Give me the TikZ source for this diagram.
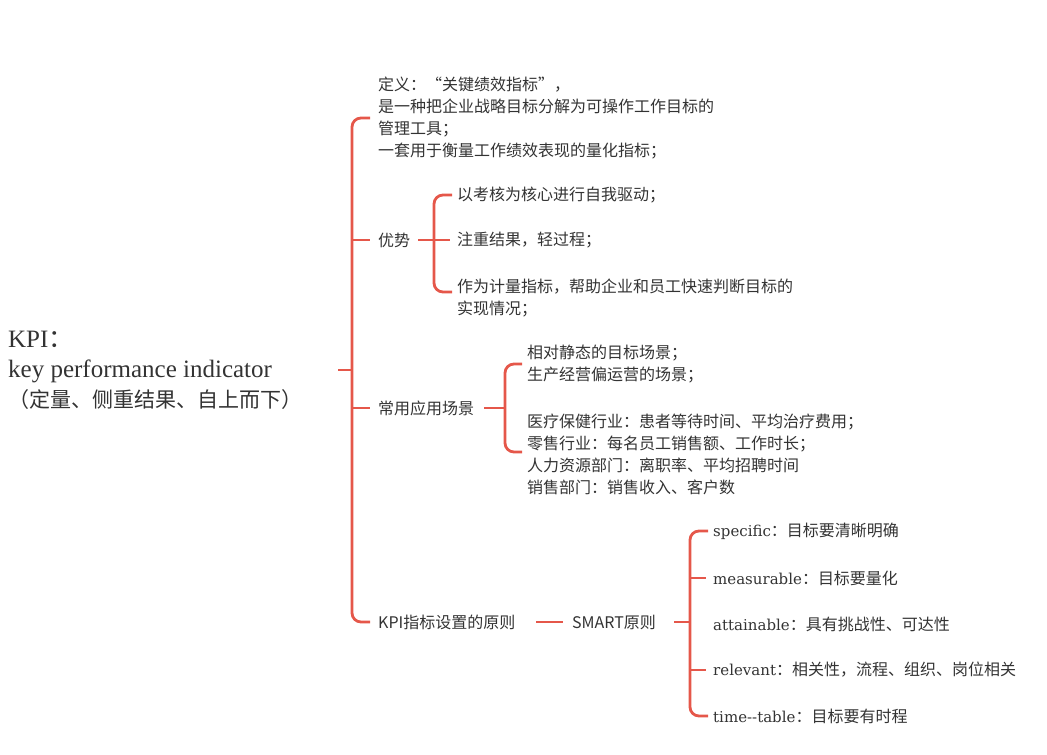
\documentclass[tikz,border=0pt]{standalone}
\usepackage{fontspec}
\setmainfont{Liberation Serif}
\newfontfamily\cjk{Noto Sans CJK SC}
\newfontfamily\lat{DejaVu Serif}
\definecolor{br}{HTML}{E5574A}
\definecolor{tx}{HTML}{333333}
\begin{document}
\begin{tikzpicture}[x=1pt,y=-1pt,
  lbl/.style={anchor=west,inner sep=0pt,text=tx,font=\fontsize{16}{22}\selectfont,align=left},
  conn/.style={draw=br,line width=2.8pt,rounded corners=9pt}]
\useasboundingbox (0,0) rectangle (1047,755);
\node[lbl,font=\fontsize{25}{30}\selectfont] (root) at (8,370) {KPI{\cjk：}\\key performance indicator\\{\cjk\fontsize{21}{30}\selectfont （定量、侧重结果、自上而下）}};
\coordinate (rc) at (352,370);
\draw[conn] (338,370) -- (rc);
\draw[conn] (370,118) -- (352,118) -- (352,622) -- (370,622);
\node[lbl] (def) at (378,118) {\cjk 定义：“关键绩效指标”，\\\cjk 是一种把企业战略目标分解为可操作工作目标的\\\cjk 管理工具；\\\cjk 一套用于衡量工作绩效表现的量化指标；};
\node[lbl] (yous) at (378,240) {\cjk 优势};
\node[lbl] (chang) at (378,408) {\cjk 常用应用场景};
\node[lbl] (kpi) at (378,622) {\cjk KPI指标设置的原则};
\draw[conn] (352,240) -- (370,240);
\draw[conn] (352,408) -- (370,408);
% youshi
\draw[conn] (418,240) -- (434,240);
\draw[conn] (452,195) -- (434,195) -- (434,292) -- (452,292);
\node[lbl] (y1) at (457,195) {\cjk 以考核为核心进行自我驱动；};
\node[lbl] (y2) at (457,240) {\cjk 注重结果，轻过程；};
\node[lbl] (y3) at (457,298) {\cjk 作为计量指标，帮助企业和员工快速判断目标的\\\cjk 实现情况；};
\draw[conn] (434,240) -- (450,240);
% changjing
\draw[conn] (484,408) -- (505,408);
\draw[conn] (522,364) -- (505,364) -- (505,452) -- (522,452);
\node[lbl] (c1) at (527,364) {\cjk 相对静态的目标场景；\\\cjk 生产经营偏运营的场景；};
\node[lbl] (c2) at (527,454) {\cjk 医疗保健行业：患者等待时间、平均治疗费用；\\\cjk 零售行业：每名员工销售额、工作时长；\\\cjk 人力资源部门：离职率、平均招聘时间\\\cjk 销售部门：销售收入、客户数};
% smart
\node[lbl] (smart) at (572,622) {\cjk SMART原则};
\draw[conn] (536,622) -- (563,622);
\draw[conn] (674,622) -- (690,622);
\draw[conn] (708,531) -- (690,531) -- (690,716) -- (708,716);
\node[lbl] (s1) at (713,531) {{\lat\fontsize{15}{22}\selectfont specific}{\cjk ：目标要清晰明确}};
\node[lbl] (s2) at (713,578) {{\lat\fontsize{15}{22}\selectfont measurable}{\cjk ：目标要量化}};
\node[lbl] (s3) at (713,624) {{\lat\fontsize{15}{22}\selectfont attainable}{\cjk ：具有挑战性、可达性}};
\node[lbl] (s4) at (713,670) {{\lat\fontsize{15}{22}\selectfont relevant}{\cjk ：相关性，流程、组织、岗位相关}};
\node[lbl] (s5) at (713,716) {{\lat\fontsize{15}{22}\selectfont time-{}-table}{\cjk ：目标要有时程}};
\draw[conn] (690,578) -- (706,578);
\draw[conn] (690,670) -- (706,670);
\end{tikzpicture}
\end{document}
